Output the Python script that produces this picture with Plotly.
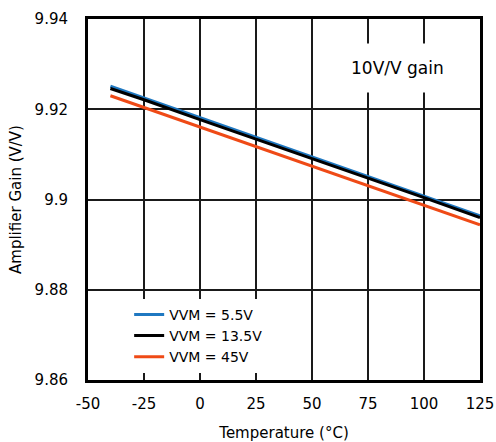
import plotly.graph_objects as go

temperature = [-40, -25, 0, 25, 50, 75, 100, 125]
gain_5v5 = [9.9251, 9.9225, 9.9181, 9.9138, 9.9095, 9.9051, 9.9008, 9.8964]
gain_13v5 = [9.9246, 9.9221, 9.9177, 9.9134, 9.9091, 9.9047, 9.9004, 9.8960]
gain_45v = [9.9230, 9.9204, 9.9161, 9.9118, 9.9074, 9.9031, 9.8988, 9.8944]
series_names = ["VVM = 5.5V", "VVM = 13.5V", "VVM = 45V"]
x_ticks = [-50, -25, 0, 25, 50, 75, 100, 125]
x_tick_labels = ["-50", "-25", "0", "25", "50", "75", "100", "125"]
y_ticks = [9.86, 9.88, 9.9, 9.92, 9.94]
y_tick_labels = ["9.86", "9.88", "9.9", "9.92", "9.94"]

FONT = "DejaVu Sans"
colors = ["#1f78c1", "#000000", "#ef4a16"]

fig = go.Figure()
for name, ys, c in zip(series_names, [gain_5v5, gain_13v5, gain_45v], colors):
    fig.add_trace(go.Scatter(x=temperature, y=ys, mode="lines", name=name,
                             line=dict(color=c, width=3)))

fig.update_layout(
    width=496, height=442,
    margin=dict(l=88, r=16, t=19, b=62, autoexpand=False),
    plot_bgcolor="white", paper_bgcolor="white",
    font=dict(family=FONT, color="black", size=15),
    showlegend=True,
    legend=dict(x=0.105, y=0.225, xanchor="left", yanchor="top",
                bgcolor="white", borderwidth=0,
                font=dict(family=FONT, size=14),
                tracegroupgap=0, itemwidth=30),
    annotations=[dict(x=0.79, y=9.9291, xref="paper", yref="y", text="10V/V gain",
                      xanchor="center", yanchor="middle",
                      showarrow=False, font=dict(family=FONT, size=17),
                      bgcolor="white", borderpad=14)],
)
fig.update_xaxes(range=[-50, 125], tickvals=x_ticks, ticktext=x_tick_labels,
                 showgrid=True, gridcolor="#1a1a1a", gridwidth=2,
                 showline=True, linecolor="black", linewidth=3, mirror=True,
                 zeroline=False, ticks="", ticklabelstandoff=8, automargin=False,
                 title=dict(text="Temperature (°C)", font=dict(size=15), standoff=16),
                 tickfont=dict(size=15))
fig.update_yaxes(range=[9.86, 9.94], tickvals=y_ticks, ticktext=y_tick_labels,
                 showgrid=True, gridcolor="#1a1a1a", gridwidth=1.5,
                 showline=True, linecolor="black", linewidth=3, mirror=True,
                 zeroline=False, ticks="", ticklabelstandoff=14, automargin=False,
                 title=dict(text="Amplifier Gain (V/V)", font=dict(size=15), standoff=10),
                 tickfont=dict(size=15))
fig.write_html("out.html")
